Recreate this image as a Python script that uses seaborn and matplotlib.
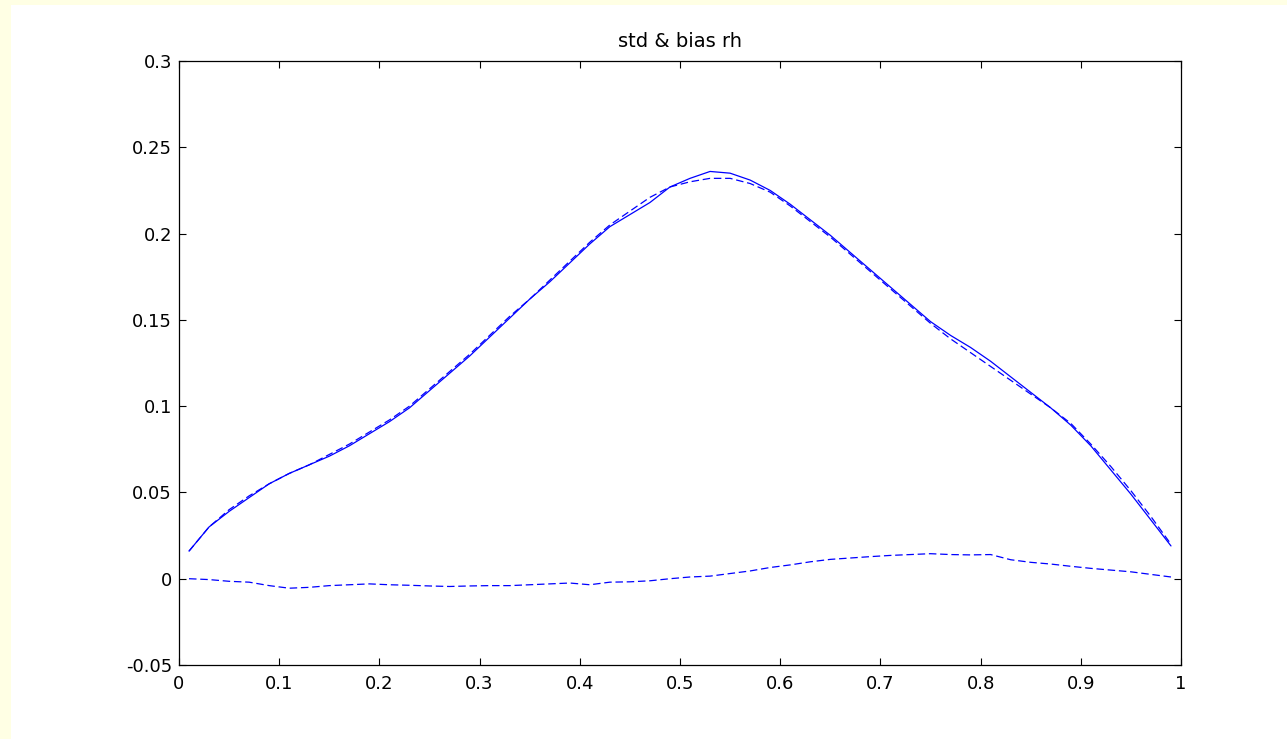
import numpy as np
import pandas as pd
import matplotlib
matplotlib.use("Agg")
import matplotlib.pyplot as plt
from matplotlib.patches import Rectangle
import seaborn as sns

# ---- data ----
x_vals = [0.01, 0.03, 0.05, 0.07, 0.09, 0.11, 0.13, 0.15, 0.17, 0.19,
          0.21, 0.23, 0.25, 0.27, 0.29, 0.31, 0.33, 0.35, 0.37, 0.39,
          0.41, 0.43, 0.45, 0.47, 0.49, 0.51, 0.53, 0.55, 0.57, 0.59,
          0.61, 0.63, 0.65, 0.67, 0.69, 0.71, 0.73, 0.75, 0.77, 0.79,
          0.81, 0.83, 0.85, 0.87, 0.89, 0.91, 0.93, 0.95, 0.97, 0.99]

std_solid = [0.016, 0.030, 0.039, 0.047, 0.055, 0.061, 0.066, 0.071, 0.077, 0.084,
             0.091, 0.099, 0.109, 0.119, 0.129, 0.140, 0.151, 0.162, 0.172, 0.183,
             0.194, 0.204, 0.211, 0.218, 0.227, 0.232, 0.236, 0.235, 0.231, 0.225,
             0.217, 0.208, 0.199, 0.189, 0.179, 0.169, 0.159, 0.149, 0.141, 0.134,
             0.126, 0.117, 0.108, 0.099, 0.089, 0.077, 0.063, 0.049, 0.034, 0.019]

std_dashed = [0.016, 0.030, 0.040, 0.048, 0.055, 0.061, 0.066, 0.072, 0.078, 0.085,
              0.092, 0.100, 0.110, 0.120, 0.130, 0.141, 0.152, 0.162, 0.173, 0.184,
              0.195, 0.205, 0.213, 0.221, 0.227, 0.230, 0.232, 0.232, 0.229, 0.224,
              0.216, 0.207, 0.198, 0.188, 0.178, 0.168, 0.158, 0.148, 0.139, 0.131,
              0.123, 0.115, 0.107, 0.099, 0.090, 0.078, 0.065, 0.051, 0.036, 0.020]

bias = [0.000, -0.0005, -0.0015, -0.002, -0.004, -0.0055, -0.005, -0.004, -0.0035, -0.003,
        -0.0035, -0.0038, -0.0042, -0.0045, -0.0042, -0.004, -0.004, -0.0035, -0.003, -0.0025,
        -0.0035, -0.002, -0.0018, -0.0012, 0.000, 0.001, 0.0015, 0.003, 0.0045, 0.0065,
        0.008, 0.0098, 0.0112, 0.012, 0.0128, 0.0135, 0.014, 0.0145, 0.014, 0.0138,
        0.014, 0.011, 0.0095, 0.0085, 0.0072, 0.006, 0.005, 0.004, 0.0025, 0.001]

x_ticks = [0, 0.1, 0.2, 0.3, 0.4, 0.5, 0.6, 0.7, 0.8, 0.9, 1]
x_tick_labels = ["0", "0.1", "0.2", "0.3", "0.4", "0.5", "0.6", "0.7", "0.8", "0.9", "1"]
y_ticks = [-0.05, 0, 0.05, 0.1, 0.15, 0.2, 0.25, 0.3]
y_tick_labels = ["-0.05", "0", "0.05", "0.1", "0.15", "0.2", "0.25", "0.3"]
title_text = "std & bias rh"

# ---- plot ----
sns.set_style("ticks")
plt.rcParams['font.family'] = ['DejaVu Sans']
plt.rcParams['xtick.direction'] = 'in'
plt.rcParams['ytick.direction'] = 'in'

fig = plt.figure(figsize=(12.87, 7.39), dpi=100)
fig.patch.set_facecolor('white')
# pale yellow frame strips (left and top)
fig.add_artist(Rectangle((0, 0), 11 / 1287, 1, transform=fig.transFigure,
                         facecolor='#ffffe4', edgecolor='none', zorder=-1))
fig.add_artist(Rectangle((0, 1 - 5 / 739), 1, 5 / 739, transform=fig.transFigure,
                         facecolor='#ffffe4', edgecolor='none', zorder=-1))

ax = fig.add_axes([179 / 1287, 74 / 739, 1002 / 1287, 604 / 739])

df = pd.DataFrame({"x": x_vals, "std_solid": std_solid,
                   "std_dashed": std_dashed, "bias": bias})

sns.lineplot(data=df, x="x", y="std_solid", ax=ax, color='#0000ff', lw=0.9)
sns.lineplot(data=df, x="x", y="std_dashed", ax=ax, color='#0000ff', lw=0.9,
             linestyle=(0, (6, 3)))
sns.lineplot(data=df, x="x", y="bias", ax=ax, color='#0000ff', lw=0.9,
             linestyle=(0, (6, 3)))

ax.set_xlim(0, 1)
ax.set_ylim(-0.05, 0.3)
ax.set_xticks(x_ticks)
ax.set_xticklabels(x_tick_labels)
ax.set_yticks(y_ticks)
ax.set_yticklabels(y_tick_labels)
ax.set_xlabel("")
ax.set_ylabel("")
ax.tick_params(axis='both', which='both', direction='in', length=5, width=0.8,
               labelsize=13, top=True, right=True, colors='black')
ax.tick_params(axis='x', pad=7)
ax.tick_params(axis='y', pad=5)
for s in ax.spines.values():
    s.set_visible(True)
    s.set_linewidth(0.9)
    s.set_color('black')
ax.set_title(title_text, fontsize=14, pad=10, color='black')

fig.savefig("out.png", dpi=100, facecolor=fig.get_facecolor())
